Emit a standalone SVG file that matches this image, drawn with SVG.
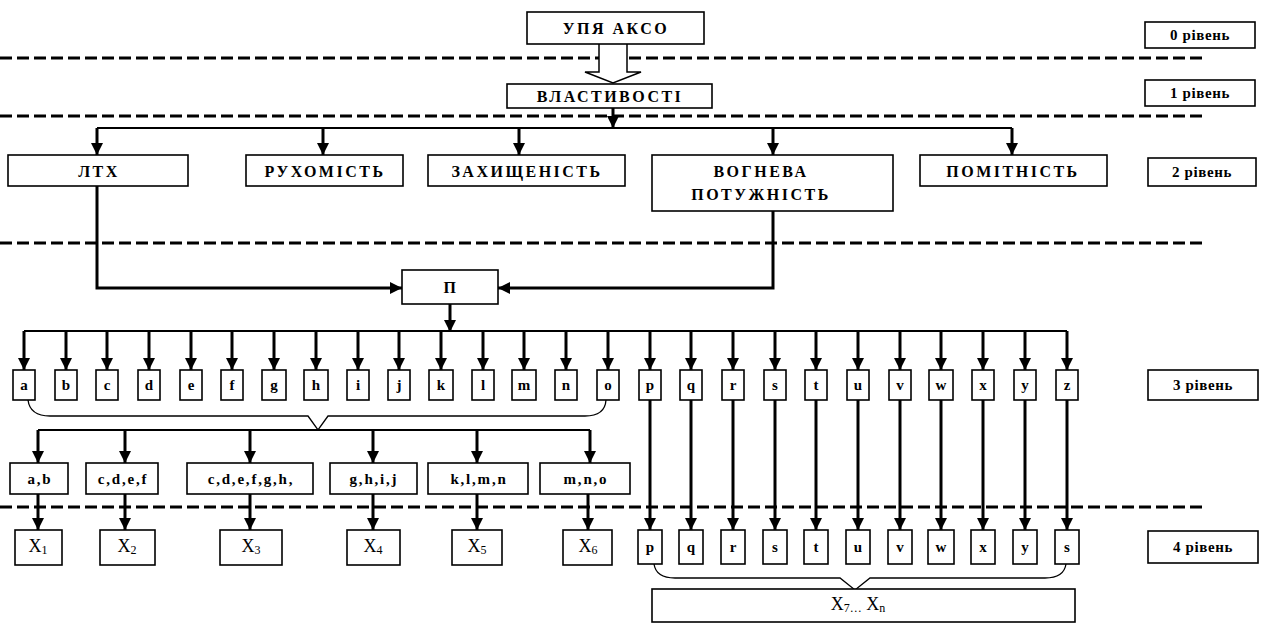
<svg xmlns="http://www.w3.org/2000/svg" width="1262" height="624" viewBox="0 0 1262 624">
<style>
.box{fill:#fff;stroke:#000;stroke-width:1.6}
.t{font-family:"Liberation Serif","DejaVu Serif",serif;font-size:16px;font-weight:bold;text-anchor:middle;dominant-baseline:central;fill:#000;letter-spacing:2.5px}
.s{font-size:15px;letter-spacing:0.6px}
.l{font-size:15px;letter-spacing:0}
.g{font-size:15px;letter-spacing:1.8px}
.x{font-size:18px;letter-spacing:0;font-weight:normal}
.dash{stroke:#000;stroke-width:3;stroke-dasharray:12 5;fill:none}
.c{stroke:#000;stroke-width:3;fill:none}
.bar{stroke:#000;stroke-width:2;fill:none}
.br{stroke:#000;stroke-width:1.3;fill:none}
</style>
<defs>
<marker id="ah" viewBox="0 0 12 12" refX="12" refY="6" markerWidth="12" markerHeight="12" markerUnits="userSpaceOnUse" orient="auto">
<path d="M0,0 L12,6 L0,12 z" fill="#000"/>
</marker>
</defs>
<rect width="1262" height="624" fill="#fff"/>

<g id="dashes">
<line class="dash" x1="0" y1="58" x2="1205" y2="58"/>
<line class="dash" x1="0" y1="116" x2="1205" y2="116"/>
<line class="dash" x1="0" y1="243" x2="1205" y2="243"/>
<line class="dash" x1="0" y1="507" x2="1205" y2="507"/>
</g>

<g id="connectors">
<path d="M599,44 V72 H585 L613,83 L641,72 H627 V44" fill="#fff" stroke="#000" stroke-width="1.5"/>
<line class="c" x1="613" y1="108" x2="613" y2="128" marker-end="url(#ah)"/>
<line class="bar" x1="97" y1="128" x2="1012" y2="128"/>
<line class="c" x1="97" y1="128" x2="97" y2="155" marker-end="url(#ah)"/>
<line class="c" x1="323" y1="128" x2="323" y2="155" marker-end="url(#ah)"/>
<line class="c" x1="519" y1="128" x2="519" y2="155" marker-end="url(#ah)"/>
<line class="c" x1="773" y1="128" x2="773" y2="155" marker-end="url(#ah)"/>
<line class="c" x1="1012" y1="128" x2="1012" y2="155" marker-end="url(#ah)"/>
<path class="c" d="M97,186 V288 H402" marker-end="url(#ah)"/>
<path class="c" d="M773,211 V288 H498" marker-end="url(#ah)"/>
<line class="c" x1="450" y1="304" x2="450" y2="332" marker-end="url(#ah)"/>
<line class="bar" x1="24" y1="331" x2="1067" y2="331"/>
<g>
<line class="c" x1="24" y1="331" x2="24" y2="370" marker-end="url(#ah)"/>
<line class="c" x1="66" y1="331" x2="66" y2="370" marker-end="url(#ah)"/>
<line class="c" x1="107" y1="331" x2="107" y2="370" marker-end="url(#ah)"/>
<line class="c" x1="149" y1="331" x2="149" y2="370" marker-end="url(#ah)"/>
<line class="c" x1="191" y1="331" x2="191" y2="370" marker-end="url(#ah)"/>
<line class="c" x1="232" y1="331" x2="232" y2="370" marker-end="url(#ah)"/>
<line class="c" x1="274" y1="331" x2="274" y2="370" marker-end="url(#ah)"/>
<line class="c" x1="316" y1="331" x2="316" y2="370" marker-end="url(#ah)"/>
<line class="c" x1="358" y1="331" x2="358" y2="370" marker-end="url(#ah)"/>
<line class="c" x1="399" y1="331" x2="399" y2="370" marker-end="url(#ah)"/>
<line class="c" x1="441" y1="331" x2="441" y2="370" marker-end="url(#ah)"/>
<line class="c" x1="483" y1="331" x2="483" y2="370" marker-end="url(#ah)"/>
<line class="c" x1="524" y1="331" x2="524" y2="370" marker-end="url(#ah)"/>
<line class="c" x1="566" y1="331" x2="566" y2="370" marker-end="url(#ah)"/>
<line class="c" x1="608" y1="331" x2="608" y2="370" marker-end="url(#ah)"/>
<line class="c" x1="650" y1="331" x2="650" y2="370" marker-end="url(#ah)"/>
<line class="c" x1="691" y1="331" x2="691" y2="370" marker-end="url(#ah)"/>
<line class="c" x1="733" y1="331" x2="733" y2="370" marker-end="url(#ah)"/>
<line class="c" x1="775" y1="331" x2="775" y2="370" marker-end="url(#ah)"/>
<line class="c" x1="816" y1="331" x2="816" y2="370" marker-end="url(#ah)"/>
<line class="c" x1="858" y1="331" x2="858" y2="370" marker-end="url(#ah)"/>
<line class="c" x1="900" y1="331" x2="900" y2="370" marker-end="url(#ah)"/>
<line class="c" x1="941" y1="331" x2="941" y2="370" marker-end="url(#ah)"/>
<line class="c" x1="983" y1="331" x2="983" y2="370" marker-end="url(#ah)"/>
<line class="c" x1="1025" y1="331" x2="1025" y2="370" marker-end="url(#ah)"/>
<line class="c" x1="1067" y1="331" x2="1067" y2="370" marker-end="url(#ah)"/>
</g>
<path class="br" d="M28,400 Q30,416 50,416 H308 L318,430 L328,416 H585 Q605,416 606,400"/>
<line class="bar" x1="38" y1="430" x2="590" y2="430"/>
<line class="c" x1="38" y1="430" x2="38" y2="463" marker-end="url(#ah)"/>
<line class="c" x1="125" y1="430" x2="125" y2="463" marker-end="url(#ah)"/>
<line class="c" x1="250" y1="430" x2="250" y2="463" marker-end="url(#ah)"/>
<line class="c" x1="373" y1="430" x2="373" y2="463" marker-end="url(#ah)"/>
<line class="c" x1="477" y1="430" x2="477" y2="463" marker-end="url(#ah)"/>
<line class="c" x1="590" y1="430" x2="590" y2="463" marker-end="url(#ah)"/>
<line class="c" x1="38" y1="494" x2="38" y2="530" marker-end="url(#ah)"/>
<line class="c" x1="125" y1="494" x2="125" y2="530" marker-end="url(#ah)"/>
<line class="c" x1="250" y1="494" x2="250" y2="530" marker-end="url(#ah)"/>
<line class="c" x1="373" y1="494" x2="373" y2="530" marker-end="url(#ah)"/>
<line class="c" x1="477" y1="494" x2="477" y2="530" marker-end="url(#ah)"/>
<line class="c" x1="588" y1="494" x2="588" y2="530" marker-end="url(#ah)"/>
<g>
<line class="c" x1="650" y1="400" x2="650" y2="530" marker-end="url(#ah)"/>
<line class="c" x1="691" y1="400" x2="691" y2="530" marker-end="url(#ah)"/>
<line class="c" x1="733" y1="400" x2="733" y2="530" marker-end="url(#ah)"/>
<line class="c" x1="775" y1="400" x2="775" y2="530" marker-end="url(#ah)"/>
<line class="c" x1="816" y1="400" x2="816" y2="530" marker-end="url(#ah)"/>
<line class="c" x1="858" y1="400" x2="858" y2="530" marker-end="url(#ah)"/>
<line class="c" x1="900" y1="400" x2="900" y2="530" marker-end="url(#ah)"/>
<line class="c" x1="941" y1="400" x2="941" y2="530" marker-end="url(#ah)"/>
<line class="c" x1="983" y1="400" x2="983" y2="530" marker-end="url(#ah)"/>
<line class="c" x1="1025" y1="400" x2="1025" y2="530" marker-end="url(#ah)"/>
<line class="c" x1="1067" y1="400" x2="1067" y2="530" marker-end="url(#ah)"/>
</g>
<path class="br" d="M654,564 Q656,578 675,578 H840 L855,590 L870,578 H1045 Q1064,578 1066,564"/>
</g>

<g id="n-upyakso"><rect class="box" x="527" y="12" width="177" height="32"/><text class="t" x="616" y="28">УПЯ АКСО</text></g>
<g id="n-vlast"><rect class="box" x="507" y="84" width="205" height="24"/><text class="t" x="610" y="96">ВЛАСТИВОСТІ</text></g>
<g id="n-ltx"><rect class="box" x="8" y="155" width="180" height="31"/><text class="t" x="99" y="171">ЛТХ</text></g>
<g id="n-ruh"><rect class="box" x="246" y="155" width="157" height="31"/><text class="t" x="325" y="171">РУХОМІСТЬ</text></g>
<g id="n-zah"><rect class="box" x="428" y="155" width="197" height="31"/><text class="t" x="527" y="171">ЗАХИЩЕНІСТЬ</text></g>
<g id="n-vogn"><rect class="box" x="652" y="155" width="241" height="56"/><text class="t" x="761" y="171">ВОГНЕВА</text><text class="t" x="761" y="194">ПОТУЖНІСТЬ</text></g>
<g id="n-pom"><rect class="box" x="920" y="155" width="187" height="31"/><text class="t" x="1013" y="171">ПОМІТНІСТЬ</text></g>
<g id="n-p"><rect class="box" x="402" y="270" width="96" height="34"/><text class="t" x="451" y="287">П</text></g>

<g id="lv0"><rect class="box" x="1145" y="22" width="110" height="26"/><text class="t s" x="1200" y="35">0 рівень</text></g>
<g id="lv1"><rect class="box" x="1145" y="80" width="110" height="26"/><text class="t s" x="1200" y="93">1 рівень</text></g>
<g id="lv2"><rect class="box" x="1148" y="158" width="108" height="28"/><text class="t s" x="1202" y="172">2 рівень</text></g>
<g id="lv3"><rect class="box" x="1148" y="370" width="110" height="30"/><text class="t s" x="1203" y="385">3 рівень</text></g>
<g id="lv4"><rect class="box" x="1148" y="531" width="110" height="32"/><text class="t s" x="1203" y="547">4 рівень</text></g>

<g id="l3-a"><rect class="box" x="13" y="370" width="22" height="30"/><text class="t l" x="24" y="385">a</text></g>
<g id="l3-b"><rect class="box" x="55" y="370" width="22" height="30"/><text class="t l" x="66" y="385">b</text></g>
<g id="l3-c"><rect class="box" x="96" y="370" width="22" height="30"/><text class="t l" x="107" y="385">c</text></g>
<g id="l3-d"><rect class="box" x="138" y="370" width="22" height="30"/><text class="t l" x="149" y="385">d</text></g>
<g id="l3-e"><rect class="box" x="180" y="370" width="22" height="30"/><text class="t l" x="191" y="385">e</text></g>
<g id="l3-f"><rect class="box" x="221" y="370" width="22" height="30"/><text class="t l" x="232" y="385">f</text></g>
<g id="l3-g"><rect class="box" x="262" y="370" width="24" height="30"/><text class="t l" x="274" y="385">g</text></g>
<g id="l3-h"><rect class="box" x="304" y="370" width="24" height="30"/><text class="t l" x="316" y="385">h</text></g>
<g id="l3-i"><rect class="box" x="347" y="370" width="22" height="30"/><text class="t l" x="358" y="385">i</text></g>
<g id="l3-j"><rect class="box" x="388" y="370" width="22" height="30"/><text class="t l" x="399" y="385">j</text></g>
<g id="l3-k"><rect class="box" x="429" y="370" width="24" height="30"/><text class="t l" x="441" y="385">k</text></g>
<g id="l3-l"><rect class="box" x="472" y="370" width="22" height="30"/><text class="t l" x="483" y="385">l</text></g>
<g id="l3-m"><rect class="box" x="512" y="370" width="24" height="30"/><text class="t l" x="524" y="385">m</text></g>
<g id="l3-n"><rect class="box" x="555" y="370" width="22" height="30"/><text class="t l" x="566" y="385">n</text></g>
<g id="l3-o"><rect class="box" x="597" y="370" width="22" height="30"/><text class="t l" x="608" y="385">o</text></g>
<g id="l3-p"><rect class="box" x="639" y="370" width="22" height="30"/><text class="t l" x="650" y="385">p</text></g>
<g id="l3-q"><rect class="box" x="680" y="370" width="22" height="30"/><text class="t l" x="691" y="385">q</text></g>
<g id="l3-r"><rect class="box" x="722" y="370" width="22" height="30"/><text class="t l" x="733" y="385">r</text></g>
<g id="l3-s"><rect class="box" x="764" y="370" width="22" height="30"/><text class="t l" x="775" y="385">s</text></g>
<g id="l3-t"><rect class="box" x="805" y="370" width="22" height="30"/><text class="t l" x="816" y="385">t</text></g>
<g id="l3-u"><rect class="box" x="847" y="370" width="22" height="30"/><text class="t l" x="858" y="385">u</text></g>
<g id="l3-v"><rect class="box" x="889" y="370" width="22" height="30"/><text class="t l" x="900" y="385">v</text></g>
<g id="l3-w"><rect class="box" x="929" y="370" width="24" height="30"/><text class="t l" x="941" y="385">w</text></g>
<g id="l3-x"><rect class="box" x="972" y="370" width="22" height="30"/><text class="t l" x="983" y="385">x</text></g>
<g id="l3-y"><rect class="box" x="1014" y="370" width="22" height="30"/><text class="t l" x="1025" y="385">y</text></g>
<g id="l3-z"><rect class="box" x="1056" y="370" width="22" height="30"/><text class="t l" x="1067" y="385">z</text></g>

<g id="g-ab"><rect class="box" x="10" y="463" width="58" height="31"/><text class="t g" x="40" y="479">a,b</text></g>
<g id="g-cdef"><rect class="box" x="86" y="463" width="72" height="31"/><text class="t g" x="123" y="479">c,d,e,f</text></g>
<g id="g-cdefgh"><rect class="box" x="187" y="463" width="126" height="31"/><text class="t g" x="251" y="479">c,d,e,f,g,h,</text></g>
<g id="g-ghij"><rect class="box" x="330" y="463" width="87" height="31"/><text class="t g" x="374" y="479">g,h,i,j</text></g>
<g id="g-klmn"><rect class="box" x="428" y="463" width="100" height="31"/><text class="t g" x="479" y="479">k,l,m,n</text></g>
<g id="g-mno"><rect class="box" x="540" y="463" width="90" height="31"/><text class="t g" x="586" y="479">m,n,o</text></g>

<g id="x1"><rect class="box" x="15" y="530" width="47" height="35"/><text class="t x" x="38" y="546">X<tspan font-size="12" dy="4">1</tspan></text></g>
<g id="x2"><rect class="box" x="100" y="530" width="55" height="35"/><text class="t x" x="127" y="546">X<tspan font-size="12" dy="4">2</tspan></text></g>
<g id="x3"><rect class="box" x="220" y="530" width="62" height="35"/><text class="t x" x="251" y="546">X<tspan font-size="12" dy="4">3</tspan></text></g>
<g id="x4"><rect class="box" x="347" y="530" width="53" height="35"/><text class="t x" x="373" y="546">X<tspan font-size="12" dy="4">4</tspan></text></g>
<g id="x5"><rect class="box" x="452" y="530" width="50" height="35"/><text class="t x" x="477" y="546">X<tspan font-size="12" dy="4">5</tspan></text></g>
<g id="x6"><rect class="box" x="563" y="530" width="49" height="35"/><text class="t x" x="588" y="546">X<tspan font-size="12" dy="4">6</tspan></text></g>

<g id="l4-p"><rect class="box" x="638" y="530" width="24" height="34"/><text class="t l" x="650" y="547">p</text></g>
<g id="l4-q"><rect class="box" x="679" y="530" width="24" height="34"/><text class="t l" x="691" y="547">q</text></g>
<g id="l4-r"><rect class="box" x="721" y="530" width="24" height="34"/><text class="t l" x="733" y="547">r</text></g>
<g id="l4-s"><rect class="box" x="763" y="530" width="24" height="34"/><text class="t l" x="775" y="547">s</text></g>
<g id="l4-t"><rect class="box" x="804" y="530" width="24" height="34"/><text class="t l" x="816" y="547">t</text></g>
<g id="l4-u"><rect class="box" x="846" y="530" width="24" height="34"/><text class="t l" x="858" y="547">u</text></g>
<g id="l4-v"><rect class="box" x="888" y="530" width="24" height="34"/><text class="t l" x="900" y="547">v</text></g>
<g id="l4-w"><rect class="box" x="928" y="530" width="26" height="34"/><text class="t l" x="941" y="547">w</text></g>
<g id="l4-x"><rect class="box" x="971" y="530" width="24" height="34"/><text class="t l" x="983" y="547">x</text></g>
<g id="l4-y"><rect class="box" x="1013" y="530" width="24" height="34"/><text class="t l" x="1025" y="547">y</text></g>
<g id="l4-z"><rect class="box" x="1055" y="530" width="24" height="34"/><text class="t l" x="1067" y="547">s</text></g>

<g id="x7n"><rect class="box" x="652" y="589" width="423" height="33"/><text class="t x" x="858" y="604">X<tspan font-size="12" dy="4">7…</tspan><tspan dy="-4"> X</tspan><tspan font-size="12" dy="4">n</tspan></text></g>
</svg>
